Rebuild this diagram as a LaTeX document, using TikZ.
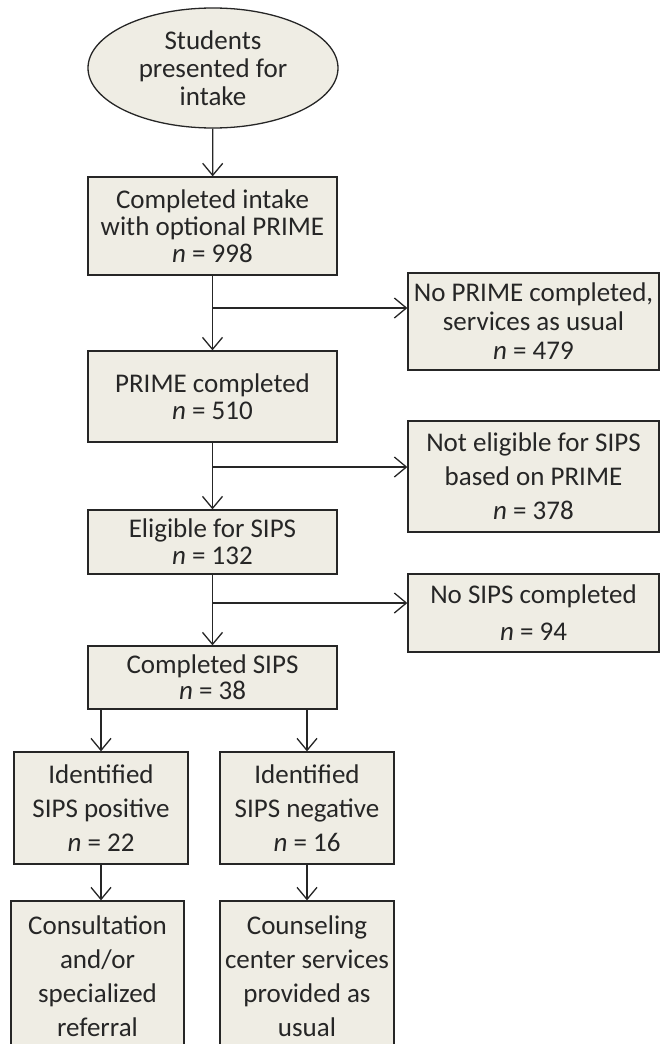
\documentclass[tikz,border=0pt]{standalone}
\usepackage{fontspec}
\setmainfont{Carlito}
\usepackage{xcolor}
\usepackage{tikz}
\usetikzlibrary{arrows.meta,shapes.geometric}

\definecolor{paper}{HTML}{EFEDE4}
\definecolor{ink}{HTML}{262626}

\begin{document}
\begin{tikzpicture}[
  x=1pt,
  y=-1pt,
  every node/.style={text=ink},
  lead/.style={font=\fontsize{27}{#1}\selectfont},
  box/.style={draw=ink, fill=paper, line width=1.3pt, inner sep=2pt, align=center},
  mainbox/.style={box, minimum width=249pt},
  sidebox/.style={box, minimum width=251pt},
  leafbox/.style={box, minimum width=174pt},
  flow/.style={draw=ink, line width=1.3pt, -{Straight Barb[length=12pt,width=20pt]}},
]

% Page.
\clip (0,0) rectangle (660,1044);

% Start.
\node[box, ellipse, lead=28, minimum width=250pt, minimum height=120pt, inner sep=0pt] (start) at (213,68)
  {Students\\presented for\\intake};

% Main column.
\node[mainbox, lead=27, minimum height=98pt] (intake) at (212.5,226)
  {Completed intake\\with optional PRIME\\{\itshape n} = 998};
\node[mainbox, lead=27, minimum height=91pt] (prime) at (212.5,396.5)
  {PRIME completed\\{\itshape n} = 510};
\node[mainbox, lead=27, minimum height=64pt] (elig) at (212.5,542)
  {Eligible for SIPS\\{\itshape n} = 132};
\node[mainbox, lead=26, minimum height=63pt] (sips) at (212.5,677.5)
  {Completed SIPS\\{\itshape n} = 38};

% Side exits.
\node[sidebox, lead=29, minimum height=97pt] (noprime) at (533.5,321.5)
  {No PRIME completed,\\services as usual\\{\itshape n} = 479};
\node[sidebox, lead=34, minimum height=111pt] (noelig) at (533.5,476.5)
  {Not eligible for SIPS\\based on PRIME\\{\itshape n} = 378};
\node[sidebox, lead=37, minimum height=78pt] (nosips) at (533.5,613)
  {No SIPS completed\\{\itshape n} = 94};

% Split after SIPS.
\node[leafbox, lead=34, minimum height=112pt] (pos) at (101,808)
  {Identified\\SIPS positive\\{\itshape n} = 22};
\node[leafbox, lead=34, minimum height=112pt] (neg) at (307,808)
  {Identified\\SIPS negative\\{\itshape n} = 16};
\node[leafbox, lead=34, minimum width=173pt, minimum height=150pt] (consult) at (97.5,976)
  {Consultation\\and/or\\specialized\\referral};
\node[leafbox, lead=34, minimum height=150pt] (usual) at (307,976)
  {Counseling\\center services\\provided as\\usual};

% Branch points.
\coordinate (br1) at (212.5,308);
\coordinate (br2) at (212.5,467);
\coordinate (br3) at (212.5,603);

% Connectors.
\draw[flow] (start) -- (intake);
\draw[flow] (intake) -- (prime);
\draw[flow] (prime) -- (elig);
\draw[flow] (elig) -- (sips);
\draw[flow] (br1) -- (br1 -| noprime.west);
\draw[flow] (br2) -- (br2 -| noelig.west);
\draw[flow] (br3) -- (br3 -| nosips.west);
\draw[flow] (sips.south -| pos.north) -- (pos.north);
\draw[flow] (sips.south -| neg.north) -- (neg.north);
\draw[flow] (pos.south) -- (pos.south |- consult.north);
\draw[flow] (neg.south) -- (neg.south |- usual.north);

\end{tikzpicture}
\end{document}
